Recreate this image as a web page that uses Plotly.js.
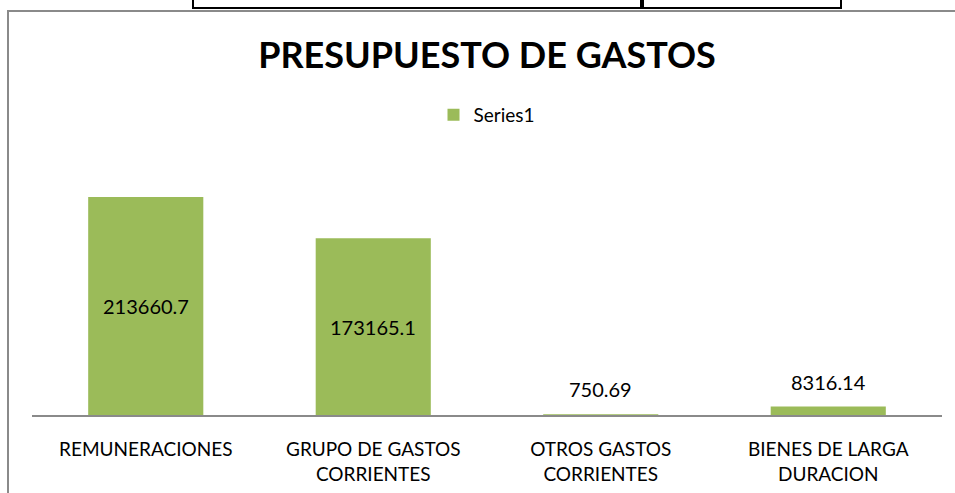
<!DOCTYPE html>
<html>
<head>
<meta charset="utf-8">
<script src="https://cdn.plot.ly/plotly-3.0.1.min.js"></script>
<style>
  html, body { margin: 0; padding: 0; background: #fff; overflow: hidden; }
  #wrap { position: relative; width: 955px; height: 493px; }
  #chart { position: absolute; left: 0; top: 0; width: 955px; height: 493px; }
  .frame { position: absolute; left: 7px; top: 10px; width: 1200px; height: 800px;
           border-left: 2px solid #8a8a8a; border-top: 2px solid #8a8a8a; pointer-events: none; }
  .cell { position: absolute; top: -10px; height: 15px; border: 2px solid #000; pointer-events: none; }
</style>
</head>
<body>
<div id="wrap">
  <div id="chart"></div>
  <div class="frame"></div>
  <div class="cell" style="left:192px; width:448px;"></div>
  <div class="cell" style="left:640px; width:198px;"></div>
</div>
<script>
const categories = ['REMUNERACIONES', 'GRUPO DE GASTOS<br>CORRIENTES', 'OTROS GASTOS<br>CORRIENTES', 'BIENES DE LARGA<br>DURACION'];
const values = [213660.7, 173165.1, 750.69, 8316.14];
const valueLabels = ['213660.7', '173165.1', '750.69', '8316.14'];
const seriesName = 'Series1';
const chartTitle = 'PRESUPUESTO DE GASTOS';

const FONT = 'Lato, "Liberation Sans", sans-serif';
const yMax = 250000;

const annotations = values.map((v, i) => {
  const inside = v > yMax * 0.1;
  return {
    x: categories[i], y: inside ? v / 2 : v, xref: 'x', yref: 'y',
    text: valueLabels[i], showarrow: false,
    yanchor: inside ? 'middle' : 'bottom', yshift: inside ? 0 : 11,
    font: { family: FONT, size: 20, color: '#000' }
  };
});

const trace = {
  type: 'bar', x: categories, y: values, name: seriesName,
  marker: { color: '#9BBB59' }, showlegend: true, hoverinfo: 'none'
};

const layout = {
  width: 955, height: 493,
  margin: { l: 32, r: 13, t: 160, b: 78 },
  paper_bgcolor: 'rgba(0,0,0,0)', plot_bgcolor: 'rgba(0,0,0,0)',
  font: { family: FONT, color: '#000' },
  title: { text: '<b>' + chartTitle + '</b>', font: { family: FONT, size: 36, color: '#000' },
           xref: 'paper', x: 0.5, xanchor: 'center', yref: 'container', y: 1 - 55 / 493, yanchor: 'middle' },
  bargap: 0.494,
  showlegend: true,
  legend: { orientation: 'h', x: 0.5, xanchor: 'center', y: 1 + 45 / 255, yanchor: 'middle',
            font: { family: FONT, size: 19, color: '#000' }, bgcolor: 'rgba(0,0,0,0)' },
  xaxis: { type: 'category', showline: true, linecolor: '#8a8a8a', linewidth: 2, ticks: '',
           showgrid: false, zeroline: false, ticklabelstandoff: 16,
           tickfont: { family: FONT, size: 19, color: '#000' } },
  yaxis: { range: [0, yMax], visible: false, showgrid: false, zeroline: false },
  annotations: annotations
};

Plotly.newPlot('chart', [trace], layout, { staticPlot: true, displayModeBar: false });
</script>
</body>
</html>
